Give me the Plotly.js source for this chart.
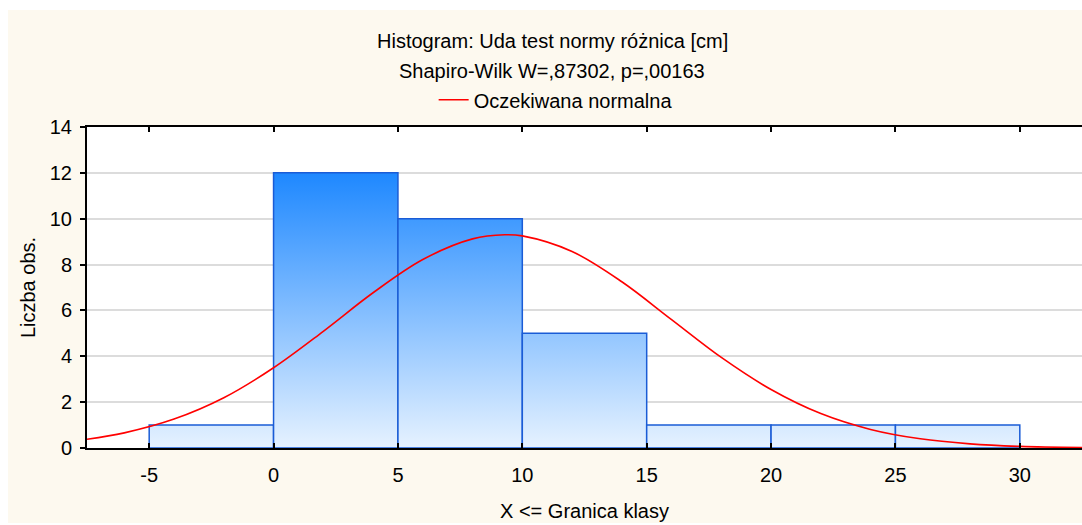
<!DOCTYPE html>
<html>
<head>
<meta charset="utf-8">
<script src="https://cdn.plot.ly/plotly-3.0.1.min.js"></script>
<style>
  html, body { margin: 0; padding: 0; background: #ffffff; }
  #chart { position: absolute; left: 8px; top: 10px; width: 1074px; height: 513px; }
</style>
</head>
<body>
<div id="chart"></div>
<script>
// Histogram bins (class boundaries) and counts
const binStarts = [-5, 0, 5, 10, 15, 20, 25];
const binEnds   = [0, 5, 10, 15, 20, 25, 30];
const counts    = [1, 12, 10, 5, 1, 1, 1];

// Expected normal curve
const normX = [-7.5, -6, -4, -2, 0, 2, 4, 6, 8, 9.3, 10, 12, 14, 16, 18, 20, 22, 24, 26, 28, 30, 32.5];
const normY = [0.38, 0.66, 1.26, 2.19, 3.50, 5.09, 6.77, 8.22, 9.12, 9.30, 9.25, 8.57, 7.25, 5.60, 3.95, 2.55, 1.50, 0.81, 0.40, 0.18, 0.07, 0.02];

const xTicks = [-5, 0, 5, 10, 15, 20, 25, 30];
const yTicks = [0, 2, 4, 6, 8, 10, 12, 14];

const titleLine1 = "Histogram: Uda test normy różnica [cm]";
const titleLine2 = "Shapiro-Wilk W=,87302, p=,00163";
const legendName = "Oczekiwana normalna";
const xTitle = "X <= Granica klasy";
const yTitle = "Liczba obs.";

const FONT = "Liberation Sans, Arial, sans-serif";
const FS = 20;
const maxCount = Math.max(...counts);

const traces = [];
binStarts.forEach((s, i) => {
  const e = binEnds[i];
  const c = counts[i];
  traces.push({
    type: "scatter",
    mode: "lines",
    x: [s, s, e, e, s],
    y: [0, c, c, 0, 0],
    fill: "toself",
    fillgradient: {
      type: "vertical",
      colorscale: [[0, "#E6F2FF"], [1, "#1E88FF"]],
      start: 0,
      stop: maxCount
    },
    line: { color: "#1A5CD6", width: 1.5 },
    showlegend: false,
    hoverinfo: "skip"
  });
});

traces.push({
  type: "scatter",
  mode: "lines",
  x: normX,
  y: normY,
  name: legendName,
  line: { color: "#FF0000", width: 1.6, shape: "spline", smoothing: 1 },
  showlegend: true
});

const layout = {
  width: 1074,
  height: 513,
  paper_bgcolor: "#FDF9EF",
  plot_bgcolor: "#FFFFFF",
  font: { family: FONT, size: FS, color: "#000000" },
  margin: { l: 79, r: 0, t: 117, b: 75, pad: 0 },
  showlegend: true,
  legend: {
    orientation: "h",
    x: 0.471, xanchor: "center",
    y: 1.085, yanchor: "middle",
    bgcolor: "rgba(0,0,0,0)",
    font: { family: FONT, size: FS, color: "#000000" }
  },
  annotations: [
    { text: titleLine1, xref: "paper", yref: "paper", x: 0.468, y: 1.269, xanchor: "center", yanchor: "middle", showarrow: false, font: { family: FONT, size: FS } },
    { text: titleLine2, xref: "paper", yref: "paper", x: 0.467, y: 1.175, xanchor: "center", yanchor: "middle", showarrow: false, font: { family: FONT, size: FS } }
  ],
  xaxis: {
    range: [-7.5, 32.5],
    tickvals: xTicks,
    ticktext: xTicks.map(String),
    ticks: "inside",
    ticklen: 5,
    tickwidth: 2,
    tickcolor: "#000000",
    showline: true,
    linecolor: "#000000",
    linewidth: 2,
    mirror: "ticks",
    showgrid: false,
    zeroline: false,
    ticklabelstandoff: 8,
    title: { text: xTitle, font: { family: FONT, size: FS }, standoff: 19 },
    fixedrange: true
  },
  yaxis: {
    range: [0, 14],
    tickvals: yTicks,
    ticktext: yTicks.map(String),
    ticks: "outside",
    ticklen: 5,
    tickwidth: 2,
    tickcolor: "#000000",
    showline: true,
    linecolor: "#000000",
    linewidth: 2,
    mirror: "ticks",
    showgrid: true,
    gridcolor: "#DCDCDC",
    gridwidth: 2,
    zeroline: false,
    ticklabelstandoff: 4,
    title: { text: yTitle, font: { family: FONT, size: FS }, standoff: 9 },
    fixedrange: true
  }
};

Plotly.newPlot("chart", traces, layout, { displayModeBar: false, staticPlot: true });
</script>
</body>
</html>
